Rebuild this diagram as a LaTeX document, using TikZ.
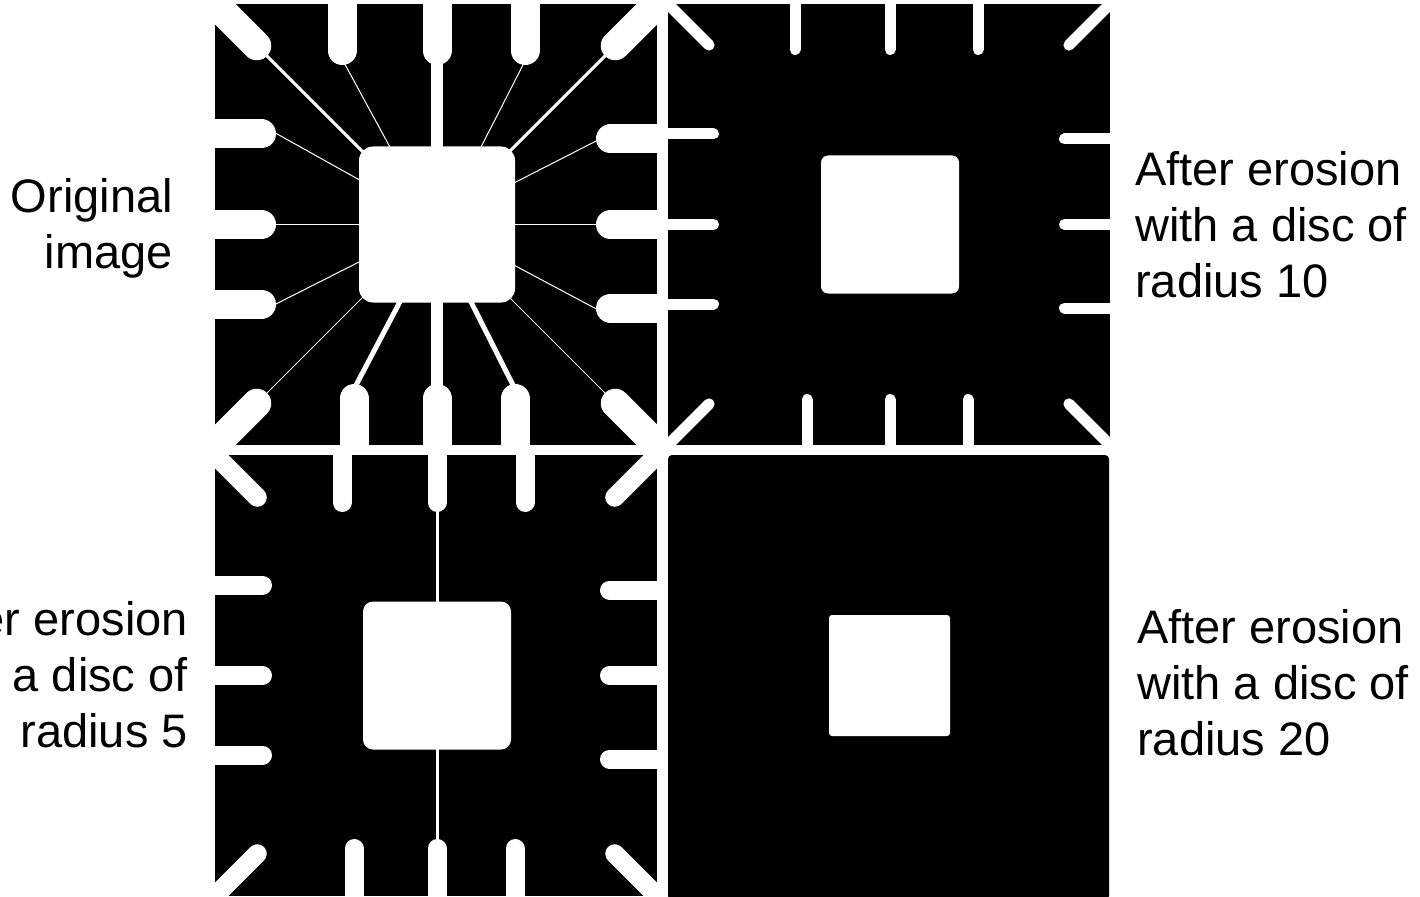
\documentclass[tikz,border=0pt]{standalone}
\usepackage{fontspec}
\setmainfont{Liberation Sans}
\begin{document}
\begin{tikzpicture}[x=1pt,y=-1pt,
  finger/.style={white,line cap=round,line width=#1 pt},
  wire/.style={white,line width=#1 pt},
  lbl/.style={inner sep=0pt,font=\fontsize{47}{56}\selectfont}]
  \useasboundingbox (0,0) rectangle (1420,896);
  % panels: origin / finger width / tip depth / corner tip / half square / corner radius
  \foreach \ox/\oy/\w/\d/\c/\h/\rr in {215/4/29/61/52/78/14,668/4/11/51/45/69/7,215/455/19/57/49/74/10}{
    \begin{scope}[shift={(\ox,\oy)}]
      \clip (0,0) rectangle (442,441);
      \fill[black] (0,0) rectangle (442,441);
      \pgfmathsetmacro\t{\d-\w/2}
      \pgfmathsetmacro\e{\c-\w*0.3536}
      % fingers
      \foreach \p in {127,222,310} \draw[finger=\w] (\p,-20) -- (\p,\t);
      \foreach \p in {139,222,300} \draw[finger=\w] (\p,461) -- (\p,441-\t);
      \foreach \p in {130,220.5,300} \draw[finger=\w] (-20,\p) -- (\t,\p);
      \foreach \p in {135,220.5,304} \draw[finger=\w] (462,\p) -- (442-\t,\p);
      \draw[finger=\w] (-20,-20) -- (\e,\e);
      \draw[finger=\w] (462,-20) -- (442-\e,\e);
      \draw[finger=\w] (-20,461) -- (\e,441-\e);
      \draw[finger=\w] (462,461) -- (442-\e,441-\e);
      % centre square
      \fill[white,rounded corners=\rr pt] ({222-\h},{220.5-\h}) rectangle ({222+\h},{220.5+\h});
    \end{scope}
  }
  % wires of the original
  \begin{scope}[shift={(215,4)}]
    \draw[wire=12] (222,0) -- (222,441);
    \draw[wire=3] (45,45) -- (150,150);
    \draw[wire=3] (397,45) -- (292,150);
    \draw[wire=1] (127,55) -- (176,145);
    \draw[wire=1] (311,55) -- (265,145);
    \draw[wire=1] (55,126) -- (150,179);
    \draw[wire=1.5] (55,220.5) -- (150,220.5);
    \draw[wire=1] (55,303) -- (150,255);
    \draw[wire=1] (387,134) -- (295,181);
    \draw[wire=1.5] (387,220.5) -- (295,220.5);
    \draw[wire=1] (387,308) -- (295,259);
    \draw[wire=1] (45,396) -- (150,291);
    \draw[wire=1] (397,396) -- (292,291);
    \draw[wire=5] (139,385) -- (188,292);
    \draw[wire=5] (300,385) -- (253,292);
  \end{scope}
  % what is left after radius 5
  \draw[wire=3] (437,455) -- (437,896);
  % radius 20
  \fill[black,rounded corners=4pt] (668,455) rectangle (1109,900);
  \fill[white,rounded corners=3pt] (829,615) rectangle (950,736);
  % labels
  \node[lbl,anchor=base east,align=right] (orig) at (173,268) {Original\\image};
  \node[lbl,anchor=base west,align=left] (ero10) at (1135,297) {After erosion\\with a disc of\\radius 10};
  \node[lbl,anchor=base east,align=right] (ero5) at (188,747) {After erosion\\with a disc of\\radius 5};
  \node[lbl,anchor=base west,align=left] (ero20) at (1137,755) {After erosion\\with a disc of\\radius 20};
\end{tikzpicture}
\end{document}
